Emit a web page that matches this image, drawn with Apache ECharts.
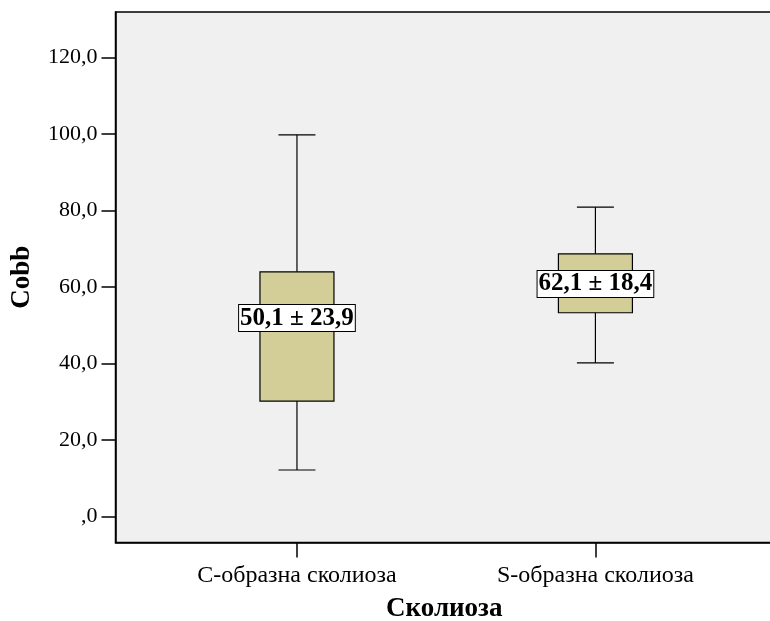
<!DOCTYPE html>
<html>
<head>
<meta charset="utf-8">
<script src="https://cdn.jsdelivr.net/npm/echarts@6/dist/echarts.min.js"></script>
<style>
html,body{margin:0;padding:0;background:#fff;}
#chart{width:770px;height:621px;}
</style>
</head>
<body>
<div id="chart"></div>
<script>
const categories = ['C-образна сколиоза', 'S-образна сколиоза'];
const whiskerLow = [12.2, 40.2];
const q1 = [30.2, 53.3];
const median = [51.9, 60.8];
const q3 = [64.0, 68.7];
const whiskerHigh = [99.8, 80.9];
const meanSdLabels = ['50,1 ± 23,9', '62,1 ± 18,4'];
const yTicks = [0, 20, 40, 60, 80, 100, 120];

const FONT = '"Liberation Serif", "Times New Roman", serif';

const data = categories.map((c, i) => [i, whiskerLow[i], q1[i], median[i], q3[i], whiskerHigh[i]]);

function fmtY(v) {
  const s = Number(v).toFixed(1).replace('.', ',');
  return s.startsWith('0,') ? s.slice(1) : s;
}

const chart = echarts.init(document.getElementById('chart'), null, {renderer: 'canvas'});
chart.setOption({
  animation: false,
  backgroundColor: '#ffffff',
  grid: {
    left: 115.5, right: -3, top: 12, bottom: 78.5,
    containLabel: false,
    outerBoundsMode: 'none',
    show: true, backgroundColor: '#f0f0f0', borderWidth: 1.5, borderColor: '#000'
  },
  xAxis: {
    type: 'value',
    min: -0.608, max: 1.595,
    name: 'Сколиоза',
    nameLocation: 'middle',
    nameGap: 53,
    nameTextStyle: {fontFamily: FONT, fontSize: 27, fontWeight: 'bold', color: '#000'},
    axisLine: {show: true, onZero: false, lineStyle: {color: '#000', width: 1.5}},
    axisTick: {show: true, length: 15, customValues: [0, 1], lineStyle: {color: '#000', width: 1.5}},
    axisLabel: {
      customValues: [0, 1],
      formatter: v => categories[Math.round(v)] || '',
      margin: 21,
      fontFamily: FONT, fontSize: 24, color: '#000'
    },
    splitLine: {show: false}
  },
  yAxis: {
    type: 'value',
    min: -6.75, max: 131.9,
    name: 'Cobb',
    nameLocation: 'middle',
    nameGap: 80,
    nameTextStyle: {fontFamily: FONT, fontSize: 27, fontWeight: 'bold', color: '#000'},
    axisLine: {show: true, onZero: false, lineStyle: {color: '#000', width: 1.5}},
    axisTick: {show: true, length: 14, customValues: yTicks, lineStyle: {color: '#000', width: 1.5}},
    axisLabel: {
      customValues: yTicks,
      formatter: fmtY,
      margin: 18,
      fontFamily: FONT, fontSize: 22, color: '#000'
    },
    splitLine: {show: false}
  },
  series: [{
    type: 'custom',
    data: data,
    encode: {x: 0, y: [1, 2, 3, 4, 5]},
    renderItem: function (params, api) {
      const xi = api.value(0);
      const lo = api.coord([xi, api.value(1)]);
      const b1 = api.coord([xi, api.value(2)]);
      const md = api.coord([xi, api.value(3)]);
      const b3 = api.coord([xi, api.value(4)]);
      const hi = api.coord([xi, api.value(5)]);
      const cx = lo[0];
      const bw = 74, cw = 37;
      const lineStyle = {stroke: '#000', lineWidth: 1.2};
      return {
        type: 'group',
        children: [
          {type: 'line', shape: {x1: cx, y1: hi[1], x2: cx, y2: b3[1]}, style: lineStyle},
          {type: 'line', shape: {x1: cx, y1: b1[1], x2: cx, y2: lo[1]}, style: lineStyle},
          {type: 'line', shape: {x1: cx - cw / 2, y1: hi[1], x2: cx + cw / 2, y2: hi[1]}, style: lineStyle},
          {type: 'line', shape: {x1: cx - cw / 2, y1: lo[1], x2: cx + cw / 2, y2: lo[1]}, style: lineStyle},
          {type: 'rect', shape: {x: cx - bw / 2, y: b3[1], width: bw, height: b1[1] - b3[1]},
            style: {fill: '#d3ce98', stroke: '#000', lineWidth: 1.2}},
          {type: 'line', shape: {x1: cx - bw / 2, y1: md[1], x2: cx + bw / 2, y2: md[1]}, style: lineStyle},
          {type: 'text', x: cx, y: md[1],
            style: {
              text: meanSdLabels[params.dataIndex],
              fill: '#000',
              font: 'bold 25px ' + FONT,
              align: 'center', verticalAlign: 'middle',
              backgroundColor: '#ffffff', borderColor: '#000', borderWidth: 1,
              padding: [1, 1, 0, 1]
            }}
        ]
      };
    }
  }]
});
</script>
</body>
</html>
